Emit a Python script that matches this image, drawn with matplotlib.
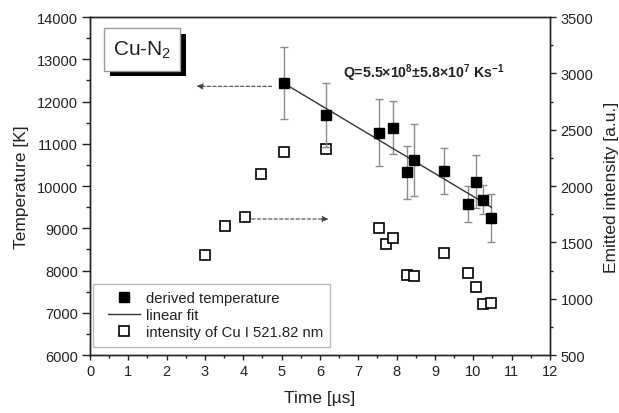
import numpy as np
import matplotlib
matplotlib.use("Agg")
import matplotlib.pyplot as plt
from matplotlib.lines import Line2D
from matplotlib.patches import Rectangle
from matplotlib.legend_handler import HandlerLine2D

plt.rcParams['font.family'] = ['Liberation Sans', 'DejaVu Sans']
plt.rcParams['mathtext.default'] = 'regular'

# ---- data ----
temp_time = [5.05, 6.15, 7.53, 7.90, 8.27, 8.46, 9.23, 9.85, 10.06, 10.25, 10.46]
temp_K = [12436, 11685, 11258, 11384, 10327, 10626, 10358, 9583, 10104, 9678, 9244]
temp_err = [860, 758, 794, 632, 625, 853, 545, 427, 620, 335, 569]

int_time = [3.01, 3.51, 4.05, 4.46, 5.05, 6.15, 7.53, 7.71, 7.90, 8.27, 8.46,
            9.23, 9.85, 10.06, 10.25, 10.46]
int_au = [1388, 1646, 1726, 2110, 2303, 2330, 1628, 1489, 1536, 1213, 1199,
          1403, 1225, 1101, 950, 964]

fit_time = [5.05, 10.47]
fit_K = [12436, 9498]

legend_labels = ["derived temperature", "linear fit", "intensity of Cu I 521.82 nm"]
x_ticks = list(range(0, 13))
y_ticks = list(range(6000, 14001, 1000))
y2_ticks = list(range(500, 3501, 500))

# annotation arrows (data coords, left axis)
arrow_left = ((4.74, 12360), (2.78, 12360))
arrow_right = ((4.22, 9220), (6.22, 9220))

fig = plt.figure(figsize=(6.19, 4.14), dpi=100)
ax = fig.add_axes([0.1454, 0.14, 0.7431, 0.8165])
ax2 = ax.twinx()

dark = '#222222'

ax.errorbar(temp_time, temp_K, yerr=temp_err, fmt='none', ecolor='#8c8c8c',
            elinewidth=1.0, capsize=3, capthick=1.0, zorder=2)
ax.plot(fit_time, fit_K, color='#333333', lw=1.0, zorder=3)
ax.plot(temp_time, temp_K, 's', color='black', ms=7.5, zorder=4)

ax2.plot(int_time, int_au, 's', mfc='white', mec='black', mew=1.2, ms=6.8,
         zorder=4)

ax.set_xlim(0, 12)
ax.set_ylim(6000, 14000)
ax2.set_ylim(500, 3500)
ax.set_xticks(x_ticks)
ax.set_yticks(y_ticks)
ax2.set_yticks(y2_ticks)
ax.set_xticks(np.arange(0.5, 12, 1), minor=True)
ax.set_yticks(np.arange(6500, 14000, 1000), minor=True)
ax2.set_yticks(np.arange(750, 3500, 500), minor=True)

for a in (ax, ax2):
    for s in a.spines.values():
        s.set_color(dark)
        s.set_linewidth(1.0)

ax.tick_params(axis='y', which='major', direction='out', length=5.5, width=1,
               labelsize=10.5, color=dark, labelcolor=dark, pad=3)
ax.tick_params(axis='y', which='minor', direction='out', length=3, width=1, color=dark)
ax.tick_params(axis='x', which='major', direction='out', length=3.8, width=1,
               labelsize=10.5, color=dark, labelcolor=dark, pad=3)
ax.tick_params(axis='x', which='minor', direction='out', length=2.2, width=1, color=dark)
ax2.tick_params(axis='y', which='major', direction='out', length=4.5, width=1,
                labelsize=10.5, color=dark, labelcolor=dark, pad=3)
ax2.tick_params(axis='y', which='minor', direction='out', length=2.5, width=1, color=dark)

ax.set_xlabel("Time [µs]", fontsize=12.5, color=dark, labelpad=8)
ax.set_ylabel("Temperature [K]", fontsize=12.5, color=dark, labelpad=6)
ax2.set_ylabel("Emitted intensity [a.u.]", fontsize=12.5, color=dark, labelpad=8)

# arrows
arrow_style = dict(arrowstyle='-|>', linestyle=(0, (3, 2)), color='#444444',
                   lw=0.8, mutation_scale=9, shrinkA=0, shrinkB=0)
ax.annotate('', xy=arrow_left[1], xytext=arrow_left[0], arrowprops=arrow_style)
ax.annotate('', xy=arrow_right[1], xytext=arrow_right[0], arrowprops=arrow_style)

# Q text
ax.text(0.726, 0.838, 'Q=5.5×10$^{8}$±5.8×10$^{7}$ Ks$^{-1}$', transform=ax.transAxes,
        ha='center', va='center', fontsize=10.2, fontweight='bold', color=dark)

# Cu-N2 label box with shadow
ax.add_patch(Rectangle((0.0435, 0.8263), 0.1652, 0.1237, transform=ax.transAxes,
                       facecolor='black', edgecolor='none', zorder=5))
ax.add_patch(Rectangle((0.031, 0.841), 0.1647, 0.1256, transform=ax.transAxes,
                       facecolor='white', edgecolor='#999999', lw=1.0, zorder=6))
ax.text(0.113, 0.905, 'Cu-N$_2$', transform=ax.transAxes, ha='center', va='center',
        fontsize=15, color=dark, zorder=7)

# legend
handles = [
    Line2D([], [], ls='none', marker='s', color='black', ms=7),
    Line2D([], [], color='#333333', lw=1.0),
    Line2D([], [], ls='none', marker='s', mfc='white', mec='black', mew=1.2, ms=6.5),
]
hmap = {h: HandlerLine2D(xpad=0.47) for h in handles}
leg = ax2.legend(handles, legend_labels, loc='lower left', handler_map=hmap,
                 bbox_to_anchor=(0.007, 0.025), borderaxespad=0, fontsize=10.7,
                 frameon=True, fancybox=False, edgecolor='#aaaaaa',
                 handlelength=2.68, handletextpad=0.34, labelspacing=0.2,
                 borderpad=0.5)
leg.get_frame().set_linewidth(1.0)
for t in leg.get_texts():
    t.set_color(dark)

ax.set_zorder(ax2.get_zorder() + 1)
ax.patch.set_visible(False)

fig.savefig('out.png', dpi=100)
